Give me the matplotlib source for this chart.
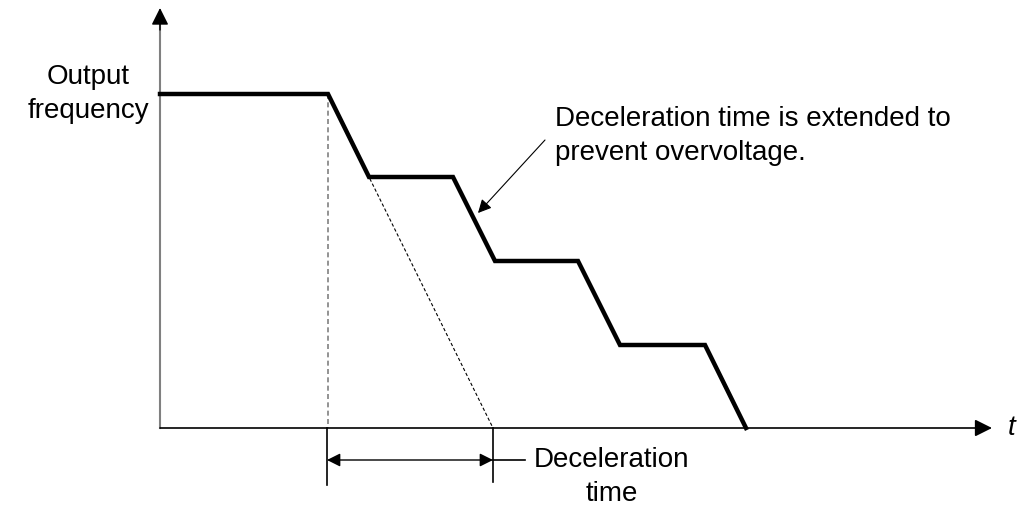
import matplotlib.pyplot as plt

plt.rcParams['font.family'] = ['Liberation Sans', 'DejaVu Sans']

# frequency profile during deceleration (pixel-like units, y grows downward)
time_pts = [160, 328, 369, 453, 495, 578, 620, 705, 746]
freq_pts = [94, 94, 177, 177, 261, 261, 345, 345, 428]

# nominal deceleration ramp
ramp_t = [328, 493]
ramp_f = [94, 428]

fig = plt.figure(figsize=(10.2, 5.05), dpi=100)
ax = fig.add_axes([0, 0, 1, 1])
ax.set_xlim(0, 1020)
ax.set_ylim(505, 0)
ax.axis('off')

# axes with arrows (grey shaft, black head on the vertical one)
ax.plot([160, 160], [428, 25], color='#808080', lw=1.5)
ax.annotate('', xy=(160, 8), xytext=(160, 30),
            arrowprops=dict(arrowstyle='-|>', color='black', lw=1,
                            mutation_scale=26, shrinkA=0, shrinkB=0))
ax.annotate('', xy=(992, 428), xytext=(160, 428),
            arrowprops=dict(arrowstyle='-|>', color='black', lw=1.2,
                            mutation_scale=26, shrinkA=0, shrinkB=0))
ax.text(1008, 428, 't', fontsize=20, style='italic', ha='left', va='center')
ax.text(88, 94, 'Output\nfrequency', fontsize=20, ha='center', va='center',
        linespacing=1.38)

# guide lines
ax.plot([328, 328], [94, 428], color='#808080', lw=1.2, ls=(0, (3, 2)))
ax.plot(ramp_t, ramp_f, color='black', lw=0.8, ls=(0, (3, 2)))

# actual output
ax.plot(time_pts, freq_pts, color='black', lw=3.2, solid_joinstyle='miter')

# deceleration time marker
ax.plot([327, 327], [428, 485], color='black', lw=1.2)
ax.plot([493, 493], [428, 482], color='black', lw=1.2)
ax.annotate('', xy=(327, 460), xytext=(493, 460),
            arrowprops=dict(arrowstyle='<|-|>', color='black', lw=1,
                            mutation_scale=20, shrinkA=0, shrinkB=0))
ax.plot([493, 525], [460, 460], color='black', lw=1.2)
ax.text(612, 477, 'Deceleration\ntime', fontsize=20, ha='center', va='center',
        linespacing=1.38)

# note on extended deceleration
ax.annotate('', xy=(478, 213), xytext=(545, 140),
            arrowprops=dict(arrowstyle='-|>', color='black', lw=0.8,
                            mutation_scale=20, shrinkA=0, shrinkB=0))
ax.text(555, 136, 'Deceleration time is extended to\nprevent overvoltage.',
        fontsize=20, ha='left', va='center', linespacing=1.38)

fig.savefig('out.png', dpi=100)
